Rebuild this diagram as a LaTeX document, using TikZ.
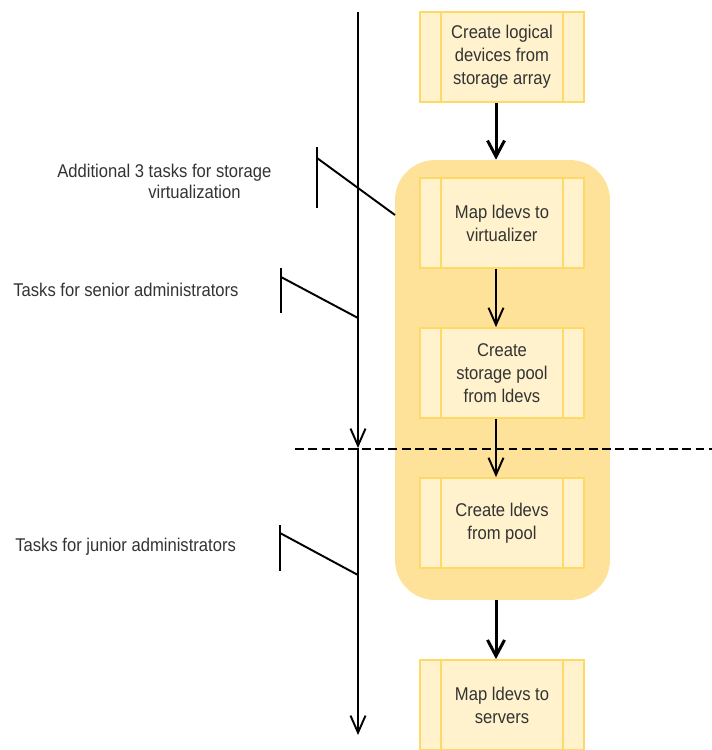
\documentclass[tikz,border=0pt]{standalone}
\usepackage{fontspec}
\setmainfont[FakeStretch=0.9]{Liberation Sans}
\usetikzlibrary{arrows.meta}
\definecolor{taskfill}{HTML}{FFF2CC}
\definecolor{taskline}{HTML}{FFD966}
\definecolor{virtfill}{HTML}{FFE29A}
\definecolor{inkgray}{HTML}{333333}
\tikzset{
  task/.style={draw=taskline, line width=1pt, fill=taskfill,
    minimum width=3.28cm, minimum height=1.8cm, inner sep=0pt,
    align=center, text=inkgray, font=\fontsize{10.5}{13}\selectfont,
    path picture={
      \draw[taskline, line width=1pt]
        ([xshift=0.42cm]path picture bounding box.north west) --
        ([xshift=0.42cm]path picture bounding box.south west)
        ([xshift=-0.42cm]path picture bounding box.north east) --
        ([xshift=-0.42cm]path picture bounding box.south east);}},
  flow/.style={line width=1.7pt, -{Straight Barb[length=0.32cm,width=0.34cm]}},
  thinflow/.style={line width=1.1pt, -{Straight Barb[length=0.34cm,width=0.3cm]}},
  note/.style={anchor=west, inner sep=0pt, align=left, text=inkgray,
    font=\fontsize{10.5}{12}\selectfont},
  bracket/.style={line width=1.1pt}
}
\begin{document}
\begin{tikzpicture}[x=0.02cm, y=-0.02cm]
    \useasboundingbox (0, 0) rectangle (712, 750);
    % virtualization group
    \node[fill=virtfill, rounded corners=0.8cm, minimum width=4.3cm,
      minimum height=8.8cm] (virt) at (502.5, 380) {};
    % task boxes
    \node[task] (logical) at (502, 57) {Create logical\\devices from\\storage array};
    \node[task] (mapvirt) at (502, 223) {Map ldevs to\\virtualizer};
    \node[task] (pool) at (502, 373) {Create\\storage pool\\from ldevs};
    \node[task] (frompool) at (502, 523) {Create ldevs\\from pool};
    \node[task] (mapsrv) at (502, 705) {Map ldevs to\\servers};
    \coordinate (axis) at (496, 0);
    \draw[flow] (logical.south -| axis) -- (virt.north -| axis);
    \draw[thinflow] (mapvirt.south -| axis) -- (pool.north -| axis);
    \draw[thinflow] (pool.south -| axis) -- (frompool.north -| axis);
    \draw[flow] (virt.south -| axis) -- (mapsrv.north -| axis);
    % time line
    \coordinate (start) at (358, 12);
    \coordinate (split) at (358, 448);
    \coordinate (end) at (358, 735);
    \draw[thinflow] (start) -- (split);
    \draw[thinflow] (split) -- (end);
    \draw[line width=1.6pt, dash pattern=on 5pt off 2.6pt] (295, 449) -- (712, 449);
    % callouts
    \draw[bracket] (317, 147) -- (317, 208);
    \draw[bracket] (317, 158) -- (395, 215);
    \draw[bracket] (281, 268) -- (281, 313);
    \draw[bracket] (281, 277) -- (358, 318);
    \draw[bracket] (280, 525) -- (280, 571);
    \draw[bracket] (280, 533) -- (358, 575);
    \node[note] (virtnote) at (57, 181) {Additional 3 tasks for storage\\\hspace*{1.82cm}virtualization};
    \node[note] (senior) at (13, 290) {Tasks for senior administrators};
    \node[note] (junior) at (15, 547) {Tasks for junior administrators};
\end{tikzpicture}
\end{document}
